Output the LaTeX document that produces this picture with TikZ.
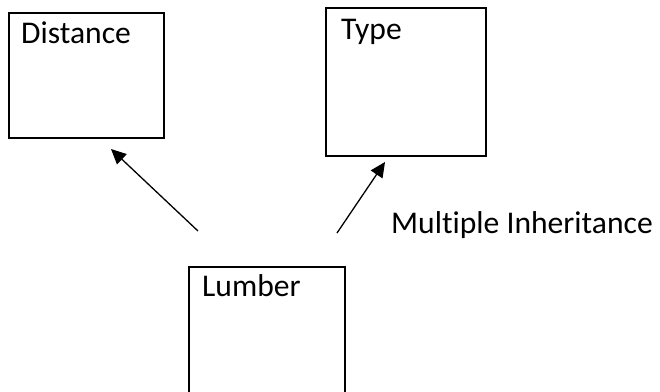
\documentclass[tikz,border=0pt]{standalone}
\usepackage{fontspec}
\setmainfont[Ligatures=NoCommon]{Carlito}
\usetikzlibrary{arrows.meta}
\begin{document}
\begin{tikzpicture}[x=1pt,y=-1pt,
  classbox/.style={draw,line width=2pt,inner sep=0pt,anchor=north west},
  boxlabel/.style={inner sep=0pt,anchor=base west,font=\fontsize{31.6}{38}\selectfont},
  inherit/.style={line width=1.3pt,-{Triangle[length=15pt,width=14pt]}}]
  \clip (0,0) rectangle (660,391);
  \fill[white] (0,0) rectangle (660,391);

  % classes
  \node[classbox,minimum width=155pt,minimum height=125pt] (distance) at (8,12) {};
  \node[classbox,minimum width=160pt,minimum height=148pt] (type) at (325,7) {};
  \node[classbox,minimum width=156pt,minimum height=140pt] (lumber) at (188,266) {};

  \node[boxlabel] (distancetext) at (21,43) {Distance};
  \node[boxlabel] (typetext) at (341,39) {Type};
  \node[boxlabel] (lumbertext) at (202,296) {Lumber};
  \node[boxlabel] (multitext) at (391,233) {Multiple Inheritance};

  % inheritance arrows
  \coordinate (fromA) at (198,231);
  \coordinate (toA) at (111,149);
  \coordinate (fromB) at (337,233);
  \coordinate (toB) at (385,162);
  \draw[inherit] (fromA) -- (toA);
  \draw[inherit] (fromB) -- (toB);
\end{tikzpicture}
\end{document}
